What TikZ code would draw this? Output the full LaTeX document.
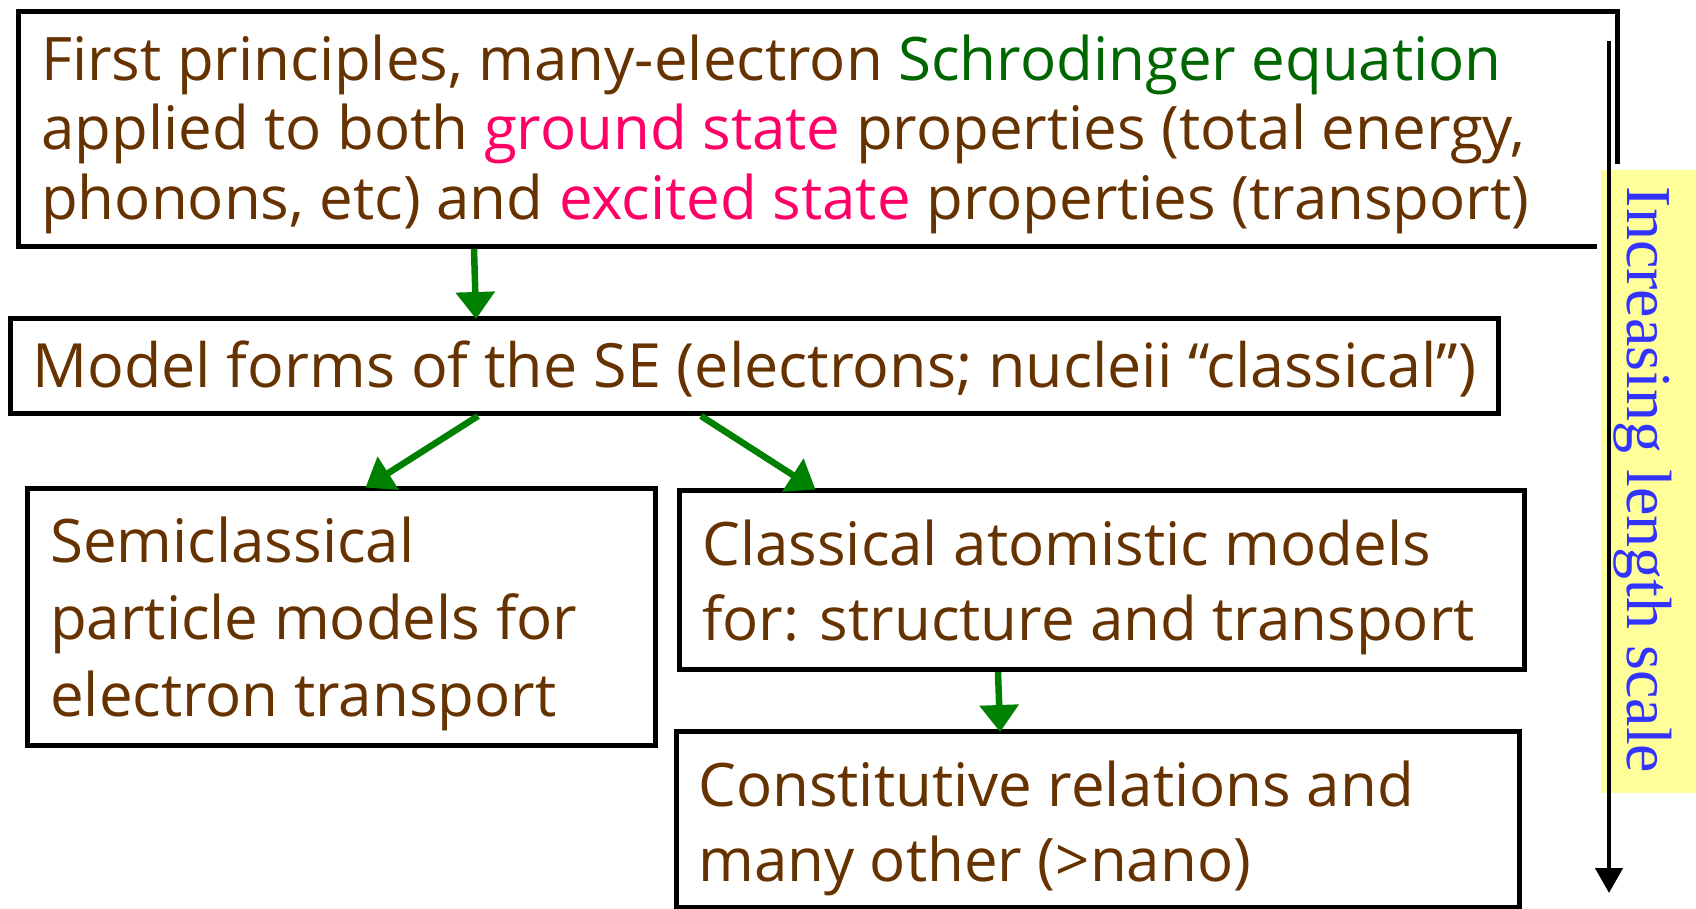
\documentclass[tikz,border=0pt]{standalone}
\usepackage{fontspec}
\setmainfont{Open Sans}
\newfontfamily\labelfont{Liberation Serif}
\usetikzlibrary{arrows.meta}
\definecolor{txtbrown}{RGB}{102,51,0}
\definecolor{txtgreen}{RGB}{0,102,0}
\definecolor{txtpink}{RGB}{255,0,102}
\definecolor{arrgreen}{RGB}{0,128,0}
\definecolor{lblblue}{RGB}{51,51,255}
\definecolor{lblyellow}{RGB}{255,255,153}
\tikzset{
  box/.style={draw=black, line width=5pt, anchor=north west, inner sep=0pt, fill=white},
  txt/.style={text=txtbrown, anchor=base west, inner sep=0pt, align=left},
  garrow/.style={draw=arrgreen, line width=6.5pt, -{Triangle[length=27pt,width=38pt]}, shorten >=-3pt},
  karrow/.style={draw=black, line width=4.5pt, -{Triangle[length=25pt,width=27pt]}},
}
\begin{document}
\begin{tikzpicture}[x=1pt,y=-1pt]
\useasboundingbox (0,0) rectangle (1696,908);
\fill[white] (0,0) rectangle (1696,908);
% boxes
\node[box, minimum width=1599pt, minimum height=235pt] (top) at (16,9) {};
\node[box, minimum width=1488pt, minimum height=95pt] (model) at (8,316) {};
\node[box, minimum width=628pt, minimum height=257pt] (semi) at (25,486) {};
\node[box, minimum width=845pt, minimum height=179pt] (classical) at (677,488) {};
\node[box, minimum width=843pt, minimum height=176pt] (const) at (674,729) {};
% label panel
\fill[white] (1597,164) rectangle (1696,908);
\node[fill=lblyellow, anchor=north west, minimum width=95pt, minimum height=623pt, inner sep=0pt] (panel) at (1601,170) {};
\node[text=lblblue, rotate=-90, inner sep=0pt, anchor=base] (lbl) at (1627,480)
  {\labelfont\fontsize{64}{70}\selectfont Increasing length scale};
% texts (anchor = baseline of last line)
\node[txt, font=\fontsize{60}{69.5}\selectfont] (ttop) at (41,219)
  {First principles, many-electron \textcolor{txtgreen}{Schrodinger equation}\\
   applied to both \textcolor{txtpink}{ground state} properties (total energy,\\
   phonons, etc) and \textcolor{txtpink}{excited state} properties (transport)};
\node[txt, font=\fontsize{61}{69.5}\selectfont] (tmodel) at (32,387)
  {Model forms of the SE (electrons; nucleii “classical”)};
\node[txt, font=\fontsize{60}{77}\selectfont] (tsemi) at (50,716)
  {Semiclassical\\particle models for\\electron transport};
\node[txt, font=\fontsize{60}{75}\selectfont] (tclass) at (702,640)
  {Classical atomistic models\\for: structure and transport};
\node[txt, font=\fontsize{60}{75}\selectfont] (tconst) at (698,881)
  {Constitutive relations and\\many other (>nano)};
% connectors
\draw[garrow] ([xshift=458pt]top.south west) -- ([xshift=468pt]model.north west);
\draw[garrow] ([xshift=470pt]model.south west) -- ([xshift=343pt]semi.north west);
\draw[garrow] ([xshift=693pt]model.south west) -- ([xshift=136pt]classical.north west);
\draw[garrow] ([xshift=321pt]classical.south west) -- ([xshift=326pt]const.north west);
\coordinate (astart) at (1609,41);
\coordinate (aend) at (1609,893);
\draw[karrow] (astart) -- (aend);
\end{tikzpicture}
\end{document}
